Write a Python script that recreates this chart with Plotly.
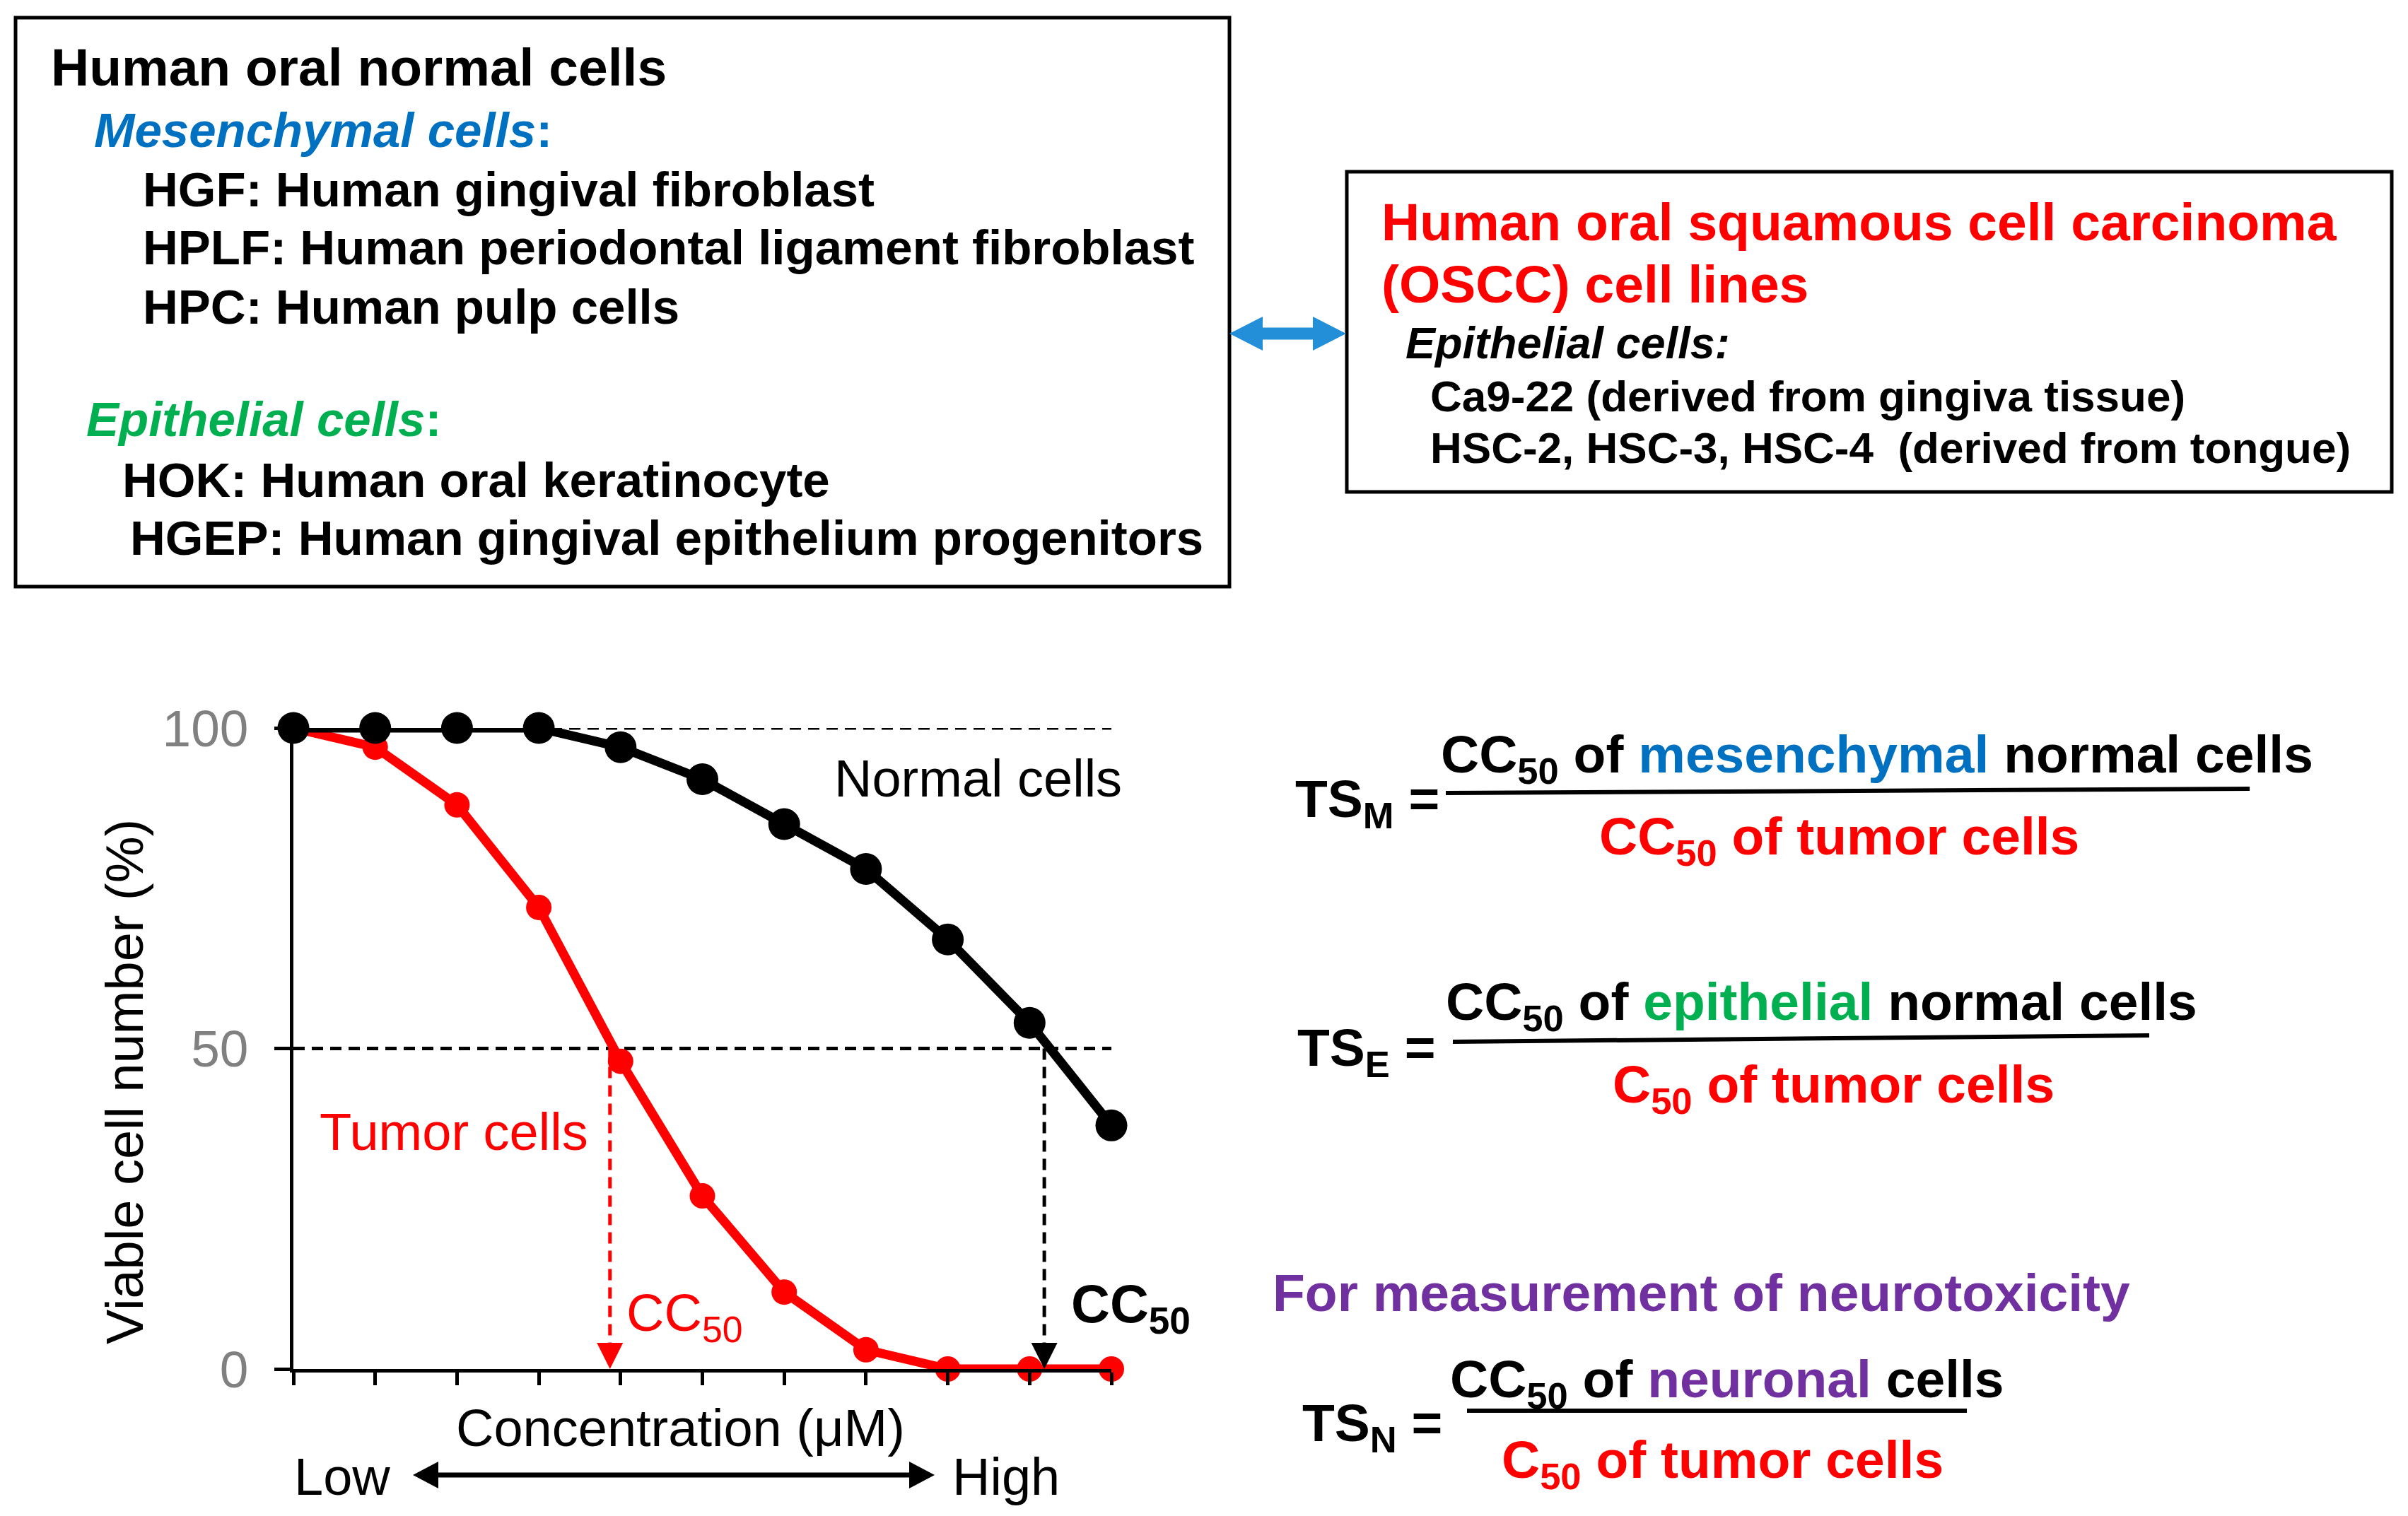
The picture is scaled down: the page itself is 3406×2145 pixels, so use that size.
import plotly.graph_objects as go

W, H = 3406, 2145
FONT = "Liberation Sans, Arial, sans-serif"

# ---------------- data ----------------
concentration_index = [0, 1, 2, 3, 4, 5, 6, 7, 8, 9, 10]
normal_cells = [100, 100, 100, 100, 97, 92, 85, 78, 67, 54, 38]
tumor_cells = [100, 97, 88, 72, 48, 27, 12, 3, 0, 0, 0]
cc50_tumor_x = 3.87
cc50_normal_x = 9.18
half_level = 50
full_level = 100
y_ticks = [0, 50, 100]

RED = "#FF0000"
BLUE = "#0070C0"
GREEN = "#00B050"
PURPLE = "#7030A0"
ARROW_BLUE = "#228FD8"


def px(x):
    return x / W


def py(y):
    return 1 - y / H


fig = go.Figure()

fig.add_trace(go.Scatter(
    x=concentration_index, y=tumor_cells, mode="lines+markers",
    line=dict(color=RED, width=13), marker=dict(color=RED, size=36),
    cliponaxis=False, showlegend=False, hoverinfo="skip"))
fig.add_trace(go.Scatter(
    x=concentration_index, y=normal_cells, mode="lines+markers",
    line=dict(color="black", width=13), marker=dict(color="black", size=45),
    cliponaxis=False, showlegend=False, hoverinfo="skip"))

DASH = "16px,10px"
shapes = []
for lvl in (full_level, half_level):
    shapes.append(dict(type="line", xref="x", yref="y", x0=0, x1=concentration_index[-1],
                       y0=lvl, y1=lvl, layer="below",
                       line=dict(color="black", width=5, dash=DASH)))
shapes.append(dict(type="line", xref="x", yref="y", x0=cc50_tumor_x, x1=cc50_tumor_x,
                   y0=half_level, y1=2, layer="below",
                   line=dict(color=RED, width=5, dash=DASH)))
shapes.append(dict(type="line", xref="x", yref="y", x0=cc50_normal_x, x1=cc50_normal_x,
                   y0=half_level, y1=2, layer="below",
                   line=dict(color="black", width=5, dash=DASH)))

shapes.append(dict(type="rect", xref="paper", yref="paper",
                   x0=px(22), x1=px(1739), y0=py(25), y1=py(830),
                   line=dict(color="black", width=5)))
shapes.append(dict(type="rect", xref="paper", yref="paper",
                   x0=px(1905), x1=px(3383), y0=py(243), y1=py(696),
                   line=dict(color="black", width=5)))


def block_arrow(x0, x1, yc, head_len, head_half, shaft_half, color):
    pts = [(x0, yc), (x0 + head_len, yc - head_half), (x0 + head_len, yc - shaft_half),
           (x1 - head_len, yc - shaft_half), (x1 - head_len, yc - head_half), (x1, yc),
           (x1 - head_len, yc + head_half), (x1 - head_len, yc + shaft_half),
           (x0 + head_len, yc + shaft_half), (x0 + head_len, yc + head_half)]
    path = "M " + " L ".join(f"{px(a):.6f},{py(b):.6f}" for a, b in pts) + " Z"
    return dict(type="path", xref="paper", yref="paper", path=path,
                fillcolor=color, line=dict(color=color, width=0))


shapes.append(block_arrow(1739, 1904, 472, 47, 24, 8.5, ARROW_BLUE))
shapes.append(block_arrow(584, 1322, 2087, 36, 19, 3.5, "black"))

for (xa, ya, xb, yb) in [(2045, 1122, 3182, 1116), (2055, 1474, 3040, 1465), (2075, 1996, 2782, 1996)]:
    shapes.append(dict(type="line", xref="paper", yref="paper",
                       x0=px(xa), y0=py(ya), x1=px(xb), y1=py(yb),
                       line=dict(color="black", width=6)))

annotations = []


def ann(text, x, y, size, color="black", xanchor="left", angle=0):
    annotations.append(dict(text=text, x=px(x), y=py(y), xref="paper", yref="paper",
                            xanchor=xanchor, yanchor="middle", showarrow=False,
                            textangle=angle,
                            font=dict(family=FONT, size=size, color=color)))


ann("<b>Human oral normal cells</b>", 70, 95, 75)
ann("<b><i>Mesenchymal cells</i>:</b>", 131, 184, 69, BLUE)
ann("<b>HGF: Human gingival fibroblast</b>", 200, 268, 69)
ann("<b>HPLF: Human periodontal ligament fibroblast</b>", 200, 351, 69)
ann("<b>HPC: Human pulp cells</b>", 200, 434, 69)
ann("<b><i>Epithelial cells</i>:</b>", 120, 593, 69, GREEN)
ann("<b>HOK: Human oral keratinocyte</b>", 171, 680, 69)
ann("<b>HGEP: Human gingival epithelium progenitors</b>", 182, 761, 69)

ann("<b>Human oral squamous cell carcinoma</b>", 1952, 314, 75, RED)
ann("<b>(OSCC) cell lines</b>", 1952, 402, 75, RED)
ann("<b><i>Epithelial cells:</i></b>", 1986, 485, 63)
ann("<b>Ca9-22 (derived from gingiva tissue)</b>", 2021, 560, 62)
ann("<b>HSC-2, HSC-3, HSC-4\u00a0 (derived from tongue)</b>", 2021, 634, 62)

ann("Normal cells", 1178, 1101, 74)
ann("Tumor cells", 450, 1601, 74, RED)
ann("CC<sub>50</sub>", 884, 1863, 74, RED)
ann("<b>CC<sub>50</sub></b>", 1513, 1850, 76)
ann("Concentration (μM)", 962, 2020, 74, xanchor="center")
ann("Low", 484, 2089, 74, xanchor="center")
ann("High", 1423, 2089, 74, xanchor="center")
ann("Viable cell number (%)", 176, 1531, 74, xanchor="center", angle=-90)

ann("<b>TS<sub>M</sub> =</b>", 1830, 1135, 75)
ann(f"<b>CC<sub>50</sub> of <span style='color:{BLUE}'>mesenchymal</span> normal cells</b>", 2036, 1072, 75)
ann("<b>CC<sub>50</sub> of tumor cells</b>", 2601, 1188, 75, RED, xanchor="center")
ann("<b>TS<sub>E</sub> =</b>", 1833, 1487, 75)
ann(f"<b>CC<sub>50</sub> of <span style='color:{GREEN}'>epithelial</span> normal cells</b>", 2043, 1422, 75)
ann("<b>C<sub>50</sub> of tumor cells</b>", 2593, 1539, 75, RED, xanchor="center")
ann("<b>For measurement of neurotoxicity</b>", 2406, 1829, 75, PURPLE, xanchor="center")
ann("<b>TS<sub>N</sub> =</b>", 1840, 2019, 75)
ann(f"<b>CC<sub>50</sub> of <span style='color:{PURPLE}'>neuronal</span> cells</b>", 2049, 1956, 75)
ann("<b>C<sub>50</sub> of tumor cells</b>", 2436, 2070, 75, RED, xanchor="center")

for xv, col in [(cc50_tumor_x, RED), (cc50_normal_x, "black")]:
    annotations.append(dict(x=xv, y=0, xref="x", yref="y", ax=0, ay=-37,
                            axref="pixel", ayref="pixel", text="", showarrow=True,
                            arrowhead=2, arrowsize=1.85, arrowwidth=4, arrowcolor=col))

fig.update_layout(
    width=W, height=H, autosize=False, margin=dict(l=0, r=0, t=0, b=0, pad=0, autoexpand=False),
    paper_bgcolor="white", plot_bgcolor="white",
    font=dict(family=FONT),
    shapes=shapes, annotations=annotations,
    xaxis=dict(domain=[px(415), px(1572)], range=[0, 10], showline=True, linewidth=5,
               linecolor="black", ticks="outside", tickvals=concentration_index, ticklen=18,
               tickwidth=5, tickcolor="black", showticklabels=False, showgrid=False,
               zeroline=False, fixedrange=True, automargin=False),
    yaxis=dict(domain=[py(1937), py(1030)], range=[0, 100], showline=True, linewidth=5,
               linecolor="black", ticks="outside", tickvals=y_ticks, ticklen=22,
               tickwidth=5, tickcolor="black", showgrid=False, zeroline=False,
               tickfont=dict(family=FONT, size=73, color="#808080"),
               ticklabelstandoff=22, fixedrange=True, automargin=False),
)

fig.write_html("out.html", config={"displayModeBar": False, "responsive": False},
               post_script="document.body.style.margin='0';")
